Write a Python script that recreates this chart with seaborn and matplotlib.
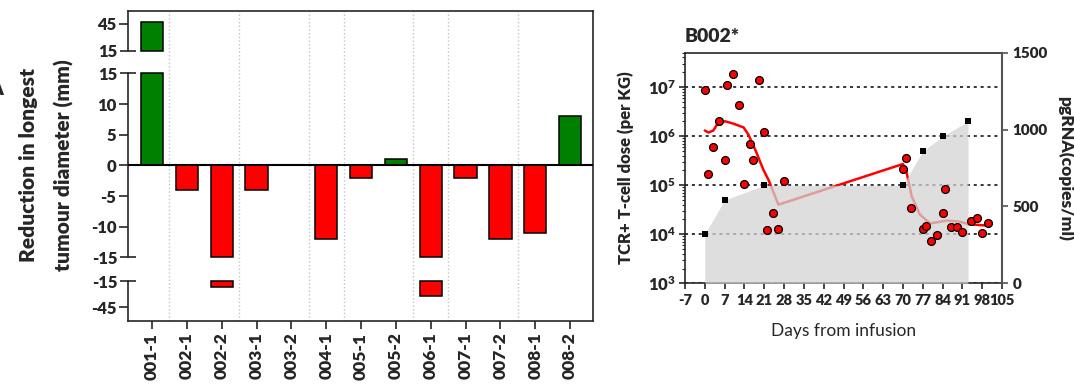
import numpy as np
import matplotlib
matplotlib.use("Agg")
import matplotlib.pyplot as plt
import seaborn as sns
from matplotlib.ticker import FixedLocator, FuncFormatter, LogLocator, NullFormatter

# Panel A: change in longest tumour diameter per lesion
lesions = ['001-1', '002-1', '002-2', '003-1', '003-2', '004-1', '005-1',
           '005-2', '006-1', '007-1', '007-2', '008-1', '008-2']
reduction_mm = [47, -4, -22, -4, 0, -12, -2, 1, -32, -2, -12, -11, 8]

# Panel B: patient B002* time course
cell_days = [0, 1, 3, 5, 7, 8, 10, 12, 14, 16, 17, 19, 21, 22, 24, 26, 28,
             70, 71, 73, 77, 78, 80, 82, 84, 85, 87, 89, 91, 94, 96, 98, 100]
cell_count = [8.8e6, 1.67e5, 6e5, 2e6, 3.3e5, 1.1e7, 1.8e7, 4.4e6, 1.05e5, 6.9e5,
              3.3e5, 1.36e7, 1.2e6, 1.23e4, 2.75e4, 1.3e4, 1.2e5,
              2.1e5, 3.5e5, 3.5e4, 1.3e4, 1.5e4, 7.4e3, 9.7e3, 2.7e4, 8.5e4,
              1.4e4, 1.4e4, 1.12e4, 1.85e4, 2.1e4, 1.07e4, 1.7e4]
dose_days = [0, 7, 21, 70, 77, 84, 93]
dose_given = [1e4, 5e4, 1e5, 1e5, 5e5, 1e6, 2e6]
pgrna_days = [0, 7, 21, 70, 77, 84, 93]
pgrna = [320, 542, 637, 637, 860, 956, 1054]
fit_days = [0, 1.3, 3, 4.8, 7.2, 10, 13.7, 15.4, 17.8, 20.7, 22.5, 26,
            70, 71.3, 73.1, 76, 79.6, 85.5, 90.2, 93.1, 99.6]
fit_count = [1.3e6, 1.18e6, 1.3e6, 1.9e6, 2.0e6, 1.8e6, 1.5e6, 1.07e6, 5.3e5,
             2.05e5, 1.28e5, 4e4, 2.7e5, 1.8e5, 5.9e4, 2.5e4, 1.66e4, 1.9e4,
             1.8e4, 1.6e4, 1.5e4]

BOLD = 'heavy'
sns.set_style('ticks')
plt.rcParams['font.family'] = ['Lato', 'DejaVu Sans']
plt.rcParams['font.weight'] = BOLD
plt.rcParams['axes.labelweight'] = BOLD
plt.rcParams['axes.titleweight'] = BOLD
plt.rcParams['axes.unicode_minus'] = False
plt.rcParams['axes.linewidth'] = 1.2
plt.rcParams['mathtext.fontset'] = 'custom'
plt.rcParams['mathtext.rm'] = 'Lato'
plt.rcParams['mathtext.bf'] = 'Lato:heavy'

fig = plt.figure(figsize=(10.74, 3.85), dpi=100)

# ---- left panel: broken y axis built from three stacked axes ----
L, W = 0.1192, 0.4330
xlim = (-0.69, 12.66)
bg = fig.add_axes([L, 0.1669, W, 0.8052])
ax_top = fig.add_axes([L, 0.8688, W, 0.1033])
ax_mid = fig.add_axes([L, 0.3312, W, 0.4784])
ax_bot = fig.add_axes([L, 0.1669, W, 0.1032])

bg.set_xlim(*xlim)
bg.set_xticks([])
bg.set_yticks([])
for s in ['top', 'left', 'bottom']:
    bg.spines[s].set_visible(False)
bounds = [i + 0.5 for i in range(len(lesions) - 1) if lesions[i][:3] != lesions[i + 1][:3]]
for b in bounds:
    bg.axvline(b, color='#c4c4c4', ls=':', lw=1.0)

colors = ['#008000' if v > 0 else '#ff0000' for v in reduction_mm]
fmt = FuncFormatter(lambda v, p: f'{v:g}')
segments = [(ax_top, (15, 60), [45], [15]),
            (ax_mid, (-15, 15), [-10, -5, 0, 5, 10], [-15, 15]),
            (ax_bot, (-60, -15), [-45], [-15])]
for ax, (lo, hi), major, minor in segments:
    sns.barplot(x=lesions, y=reduction_mm, hue=lesions, palette=colors, legend=False,
                width=0.64, saturation=1, edgecolor='black', linewidth=1.1, ax=ax)
    # cut each bar to the segment so the break edges get an outline
    for p in ax.patches:
        y0 = min(p.get_y(), p.get_y() + p.get_height())
        y1 = max(p.get_y(), p.get_y() + p.get_height())
        y0, y1 = max(y0, lo), min(y1, hi)
        if y1 <= y0:
            p.set_visible(False)
            continue
        p.set_y(y0)
        p.set_height(y1 - y0)
        p.set_clip_on(False)
    ax.set_ylim(lo, hi)
    ax.set_xlim(*xlim)
    ax.set_xlabel('')
    ax.set_ylabel('')
    ax.yaxis.set_major_locator(FixedLocator(major))
    ax.yaxis.set_minor_locator(FixedLocator(minor))
    ax.yaxis.set_major_formatter(fmt)
    ax.yaxis.set_minor_formatter(fmt)
    ax.tick_params(axis='y', which='major', direction='out', length=6.3, width=1.2,
                   labelsize=12, pad=2)
    ax.tick_params(axis='y', which='minor', direction='inout', length=11.5, width=1.2,
                   labelsize=12, pad=2)
    ax.patch.set_visible(False)
    for s in ['top', 'right', 'bottom']:
        ax.spines[s].set_visible(False)
    if ax is not ax_bot:
        ax.tick_params(axis='x', bottom=False, labelbottom=False)

ax_top.spines['top'].set_visible(True)
ax_bot.spines['bottom'].set_visible(True)
ax_mid.axhline(0, color='black', lw=1.5, zorder=5)
ax_bot.set_xticks(range(len(lesions)))
ax_bot.set_xticklabels(lesions, rotation=90, fontsize=12.5, fontweight=BOLD)
ax_bot.tick_params(axis='x', length=5.5, width=1.2, pad=3)

fig.text(28.5 / 1074, 1 - 165 / 385, 'Reduction in longest', rotation=90,
         ha='center', va='center', fontsize=15, fontweight=BOLD)
fig.text(63.5 / 1074, 1 - 165 / 385, 'tumour diameter (mm)', rotation=90,
         ha='center', va='center', fontsize=15, fontweight=BOLD)
fig.text(0.003, 0.77, 'A', ha='right', va='center', fontsize=16, fontweight=BOLD)

# ---- right panel: T-cell counts (log) with pgRNA (linear, right) ----
ax = fig.add_axes([0.6378, 0.2642, 0.2952, 0.5989])
ax.set_yscale('log')
ax.set_ylim(1e3, 5e7)
ax.set_xlim(-7, 105)
ax.yaxis.grid(True, which='major', color='black', ls=(0, (2, 2.5)), lw=1.1)
sns.lineplot(x=fit_days, y=fit_count, color='red', lw=1.8, estimator=None, sort=False, ax=ax)

ax2 = ax.twinx()
ax2.fill_between(pgrna_days, 0, pgrna, color='#d3d3d3', alpha=0.75, lw=0)
ax2.set_ylim(0, 1500)

ax3 = ax.twinx()
ax3.set_yscale('log')
sns.scatterplot(x=dose_days, y=dose_given, marker='s', color='black', s=17, linewidth=0, ax=ax3)
sns.scatterplot(x=cell_days, y=cell_count, color='red', edgecolor='black', s=32,
                linewidth=0.9, ax=ax3)
ax3.set_ylim(1e3, 5e7)
ax3.yaxis.set_visible(False)
for s in ax3.spines.values():
    s.set_visible(False)
ax.set_xlim(-7, 105)

ax.yaxis.set_major_locator(LogLocator(base=10, numticks=10))
ax.yaxis.set_major_formatter(FuncFormatter(lambda v, p: r'$\mathbf{10^{%d}}$' % round(np.log10(v))))
ax.yaxis.set_minor_locator(LogLocator(base=10, subs=np.arange(2, 10), numticks=20))
ax.yaxis.set_minor_formatter(NullFormatter())
ax.tick_params(axis='y', which='major', length=4.5, width=1.2, labelsize=12, pad=2)
ax.tick_params(axis='y', which='minor', length=2.5, width=0.8)
ax.set_xticks(range(-7, 106, 7))
ax.set_xticklabels([str(d) for d in range(-7, 106, 7)], fontsize=10.5, fontweight=BOLD)
ax.tick_params(axis='x', length=4.5, width=1.2, pad=3)
ax.spines['right'].set_visible(False)

ax2.set_yticks([0, 500, 1000, 1500])
ax2.tick_params(axis='y', length=4.5, width=1.2, color='#555555', labelsize=11, pad=3)
for s in ['left', 'top', 'bottom']:
    ax2.spines[s].set_visible(False)
ax2.spines['right'].set_color('#555555')
ax2.spines['right'].set_linewidth(1.5)

ax.set_title('B002*', loc='left', fontsize=14, fontweight=BOLD, pad=8)
ax.set_ylabel('TCR+ T-cell dose (per KG)', fontsize=12, fontweight=BOLD, va='center')
ax.yaxis.set_label_coords(-0.186, 0.5)
ax2.set_ylabel('pgRNA(copies/ml)', rotation=270, fontsize=12.5, fontweight=BOLD,
               va='center', ha='center')
ax2.yaxis.set_label_coords(1.199, 0.5)
ax.set_xlabel('Days from infusion', fontsize=12.5, fontweight='normal')
ax.xaxis.set_label_coords(0.5, -0.172)

fig.savefig('out.png', dpi=100)
